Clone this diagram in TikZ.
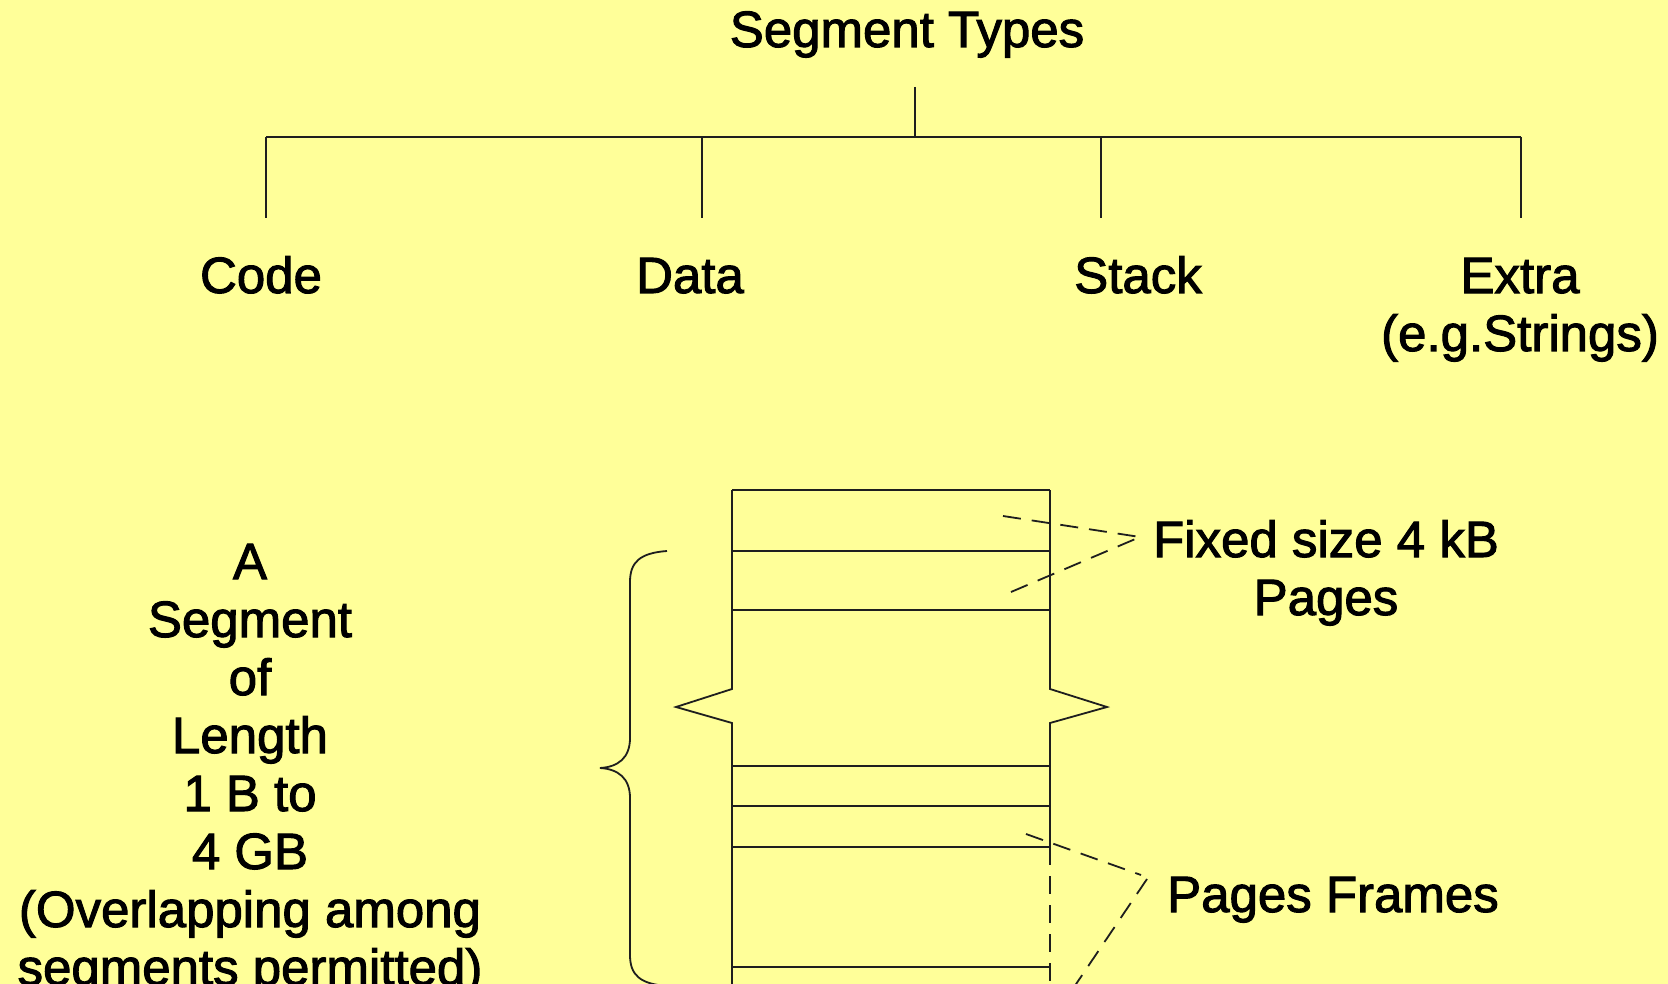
\documentclass[tikz,border=0pt]{standalone}
\usepackage{fontspec}
\setmainfont{Liberation Sans}[FakeBold=2]
\definecolor{bg}{RGB}{255,255,153}
\definecolor{ink}{RGB}{30,30,30}
\begin{document}
\begin{tikzpicture}[x=1pt,y=-1pt,
  lbl/.style={font=\fontsize{51}{58}\selectfont, inner sep=0pt, anchor=base, align=center, text=black},
  ln/.style={draw=ink, line width=1.8pt},
  dsh/.style={draw=ink, line width=1.8pt, dash pattern=on 18pt off 11pt}]
\useasboundingbox (0,0) rectangle (1668,984);
\fill[bg] (0,0) rectangle (1668,984);
\clip (0,0) rectangle (1668,984);

% tree
\node[lbl] (title) at (907,47) {Segment Types};
\coordinate (root) at (915,87);
\coordinate (bus) at (915,137);
\coordinate (b1) at (266,137);
\coordinate (b2) at (702,137);
\coordinate (b3) at (1101,137);
\coordinate (b4) at (1521,137);
\coordinate (d1) at (266,218);
\coordinate (d2) at (702,218);
\coordinate (d3) at (1101,218);
\coordinate (d4) at (1521,218);
\draw[ln] (root) -- (bus);
\draw[ln] (b1) -- (b4);
\draw[ln] (b1) -- (d1);
\draw[ln] (b2) -- (d2);
\draw[ln] (b3) -- (d3);
\draw[ln] (b4) -- (d4);
\node[lbl] (code) at (261,293) {Code};
\node[lbl] (data) at (690,293) {Data};
\node[lbl] (stack) at (1138,293) {Stack};
% base anchor of a multi-line node = baseline of its last line
\node[lbl] (extra) at (1520,351) {Extra\\(e.g.Strings)};

% left text
\node[lbl] (seg) at (250,985) {A\\Segment\\of\\Length\\1 B to\\4 GB\\(Overlapping among\\segments permitted)};

% brace
\draw[ln] (667,551) .. controls (640,553) and (630,562) .. (630,582) -- (630,738)
  .. controls (630,758) and (618,767) .. (600,768)
  .. controls (618,769) and (630,778) .. (630,798) -- (630,955)
  .. controls (630,975) and (640,984) .. (667,986);

% segment box
\draw[ln] (732,490) -- (1050,490);
\foreach \yy in {551,610,766,806,847,967}
  \draw[ln] (732,\yy) -- (1050,\yy);
\draw[ln] (732,490) -- (732,689) -- (676,707) -- (732,723) -- (732,995);
\draw[ln] (1050,490) -- (1050,689) -- (1107,707) -- (1050,723) -- (1050,847);
\draw[dsh] (1050,847) -- (1050,995);

% labels right
\node[lbl] (fixed) at (1326,615) {Fixed size 4 kB\\Pages};
\node[lbl] (frames) at (1333,912) {Pages Frames};

\coordinate (fa) at (1140,537);
\coordinate (p1) at (1003,516);
\coordinate (p2) at (1011,592);
\draw[dsh] (p1) -- (fa);
\draw[dsh] (p2) -- (fa);

\coordinate (ga1) at (1141,875);
\coordinate (ga2) at (1147,879);
\coordinate (q1) at (1026,834);
\coordinate (q2) at (1068,996);
\draw[dsh] (q1) -- (ga1);
\draw[dsh] (ga2) -- (q2);
\end{tikzpicture}
\end{document}
